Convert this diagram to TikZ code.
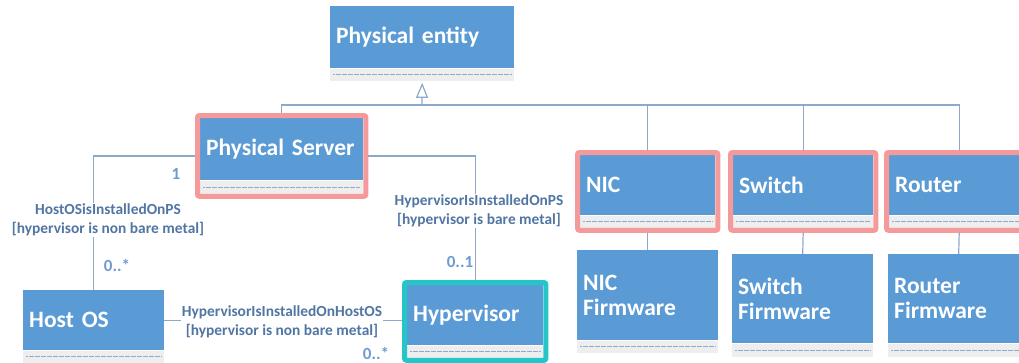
\documentclass[tikz,border=0pt]{standalone}
\usepackage{fontspec}
\setmainfont{Carlito}
\usetikzlibrary{positioning, fit, arrows.meta}

\definecolor{umlblue}{HTML}{5B9BD5}
\definecolor{stripgray}{HTML}{EEEEEE}
\definecolor{stripdot}{HTML}{8FAACC}
\definecolor{hlpink}{HTML}{F59A9A}
\definecolor{hlcyan}{HTML}{26C6C8}
\definecolor{connblue}{HTML}{8DA9CA}
\definecolor{labelblue}{HTML}{5176A3}
\definecolor{multblue}{HTML}{6E9BD0}

\tikzset{
    % class header (blue part)
    umlclass/.style={rectangle, fill=umlblue, text=white, anchor=north west,
        font=\bfseries\fontsize{23.5}{25}\selectfont, inner xsep=6pt, inner ysep=0pt, align=left},
    % empty compartment under the header
    opsbox/.style={rectangle, fill=stripgray, inner sep=0pt, minimum height=12pt,
        path picture={\draw[stripdot, line width=0.6pt, dash pattern=on 0.6pt off 0.6pt]
            ([xshift=3pt]path picture bounding box.west) -- ([xshift=-3pt]path picture bounding box.east);}},
    hilite/.style={draw=#1, line width=5pt, rounded corners=2pt, inner sep=2.5pt},
    conn/.style={draw=connblue, line width=1.2pt},
    assoclabel/.style={fill=white, text=labelblue, align=center, inner sep=1pt,
        font=\bfseries\fontsize{15.4}{19.5}\selectfont},
    mult/.style={text=multblue, inner sep=0pt, font=\bfseries\fontsize{17}{20}\selectfont},
}

\begin{document}
\begin{tikzpicture}[x=1pt, y=-1pt, >=stealth]
    \useasboundingbox (0,0) rectangle (1019,362);

    % Classes
    \node[umlclass, text width=172pt, minimum height=62pt] (entity) at (330,6) {Physical entity};
    \node[opsbox, minimum width=184pt, below=0pt of entity] (entity-ops) {};

    \node[umlclass, text width=151pt, minimum height=62pt] (server) at (200,118) {Physical Server};
    \node[opsbox, minimum width=163pt, minimum height=13pt, below=0pt of server] (server-ops) {};

    \node[umlclass, text width=123pt, minimum height=60pt] (nic) at (580,155) {NIC};
    \node[opsbox, minimum width=135pt, below=0pt of nic] (nic-ops) {};

    \node[umlclass, text width=128pt, minimum height=60pt] (switch) at (733,155) {Switch};
    \node[opsbox, minimum width=140pt, below=0pt of switch] (switch-ops) {};

    \node[umlclass, text width=128pt, minimum height=60pt] (router) at (889,155) {Router};
    \node[opsbox, minimum width=140pt, below=0pt of router] (router-ops) {};

    \node[umlclass, text width=129pt, minimum height=60pt] (hostos) at (23,290) {Host OS};
    \node[opsbox, minimum width=141pt, below=0pt of hostos] (hostos-ops) {};

    \node[umlclass, text width=124pt, minimum height=60pt] (hyper) at (407,285) {Hypervisor};
    \node[opsbox, minimum width=136pt, below=0pt of hyper] (hyper-ops) {};

    \node[umlclass, text width=129pt, minimum height=90pt] (nicfw) at (577,250) {NIC\\Firmware};
    \node[opsbox, minimum width=141pt, below=0pt of nicfw] (nicfw-ops) {};

    \node[umlclass, text width=129pt, minimum height=89pt] (switchfw) at (732,254) {Switch\\Firmware};
    \node[opsbox, minimum width=141pt, minimum height=13pt, below=0pt of switchfw] (switchfw-ops) {};

    \node[umlclass, text width=129pt, minimum height=89pt] (routerfw) at (888,254) {Router\\Firmware};
    \node[opsbox, minimum width=141pt, minimum height=13pt, below=0pt of routerfw] (routerfw-ops) {};

    % Highlight frames
    \node[hilite=hlpink, fit=(server)(server-ops)] (server-hl) {};
    \node[hilite=hlpink, fit=(nic)(nic-ops)] (nic-hl) {};
    \node[hilite=hlpink, fit=(switch)(switch-ops)] (switch-hl) {};
    \node[hilite=hlpink, fit=(router)(router-ops)] (router-hl) {};
    \node[hilite=hlcyan, fit=(hyper)(hyper-ops)] (hyper-hl) {};

    % Generalization
    \coordinate (bus) at (422,105);
    \draw[conn, -{Triangle[open, length=15pt, width=12pt]}, shorten >=2pt] (bus) -- (entity-ops.south);
    \draw[conn] (server-hl.north) -- (server-hl.north |- bus) -- (router-hl.north |- bus) -- (router-hl.north);
    \draw[conn] (nic-hl.north) -- (nic-hl.north |- bus);
    \draw[conn] (switch-hl.north) -- (switch-hl.north |- bus);

    % Firmware links
    \draw[conn] (nic-hl.south) -- (nicfw.north);
    \draw[conn] (switch-hl.south) -- (switchfw.north);
    \draw[conn] (router-hl.south) -- (routerfw.north);

    % Associations
    \draw[conn] (server-hl.west) -| (hostos.north);
    \draw[conn] (server-hl.east) -| (hyper-hl.north);
    \draw[conn] (hostos.east) -- (hostos.east -| hyper-hl.west);

    \node[assoclabel] (lbl-hostps) at (108,220) {HostOSisInstalledOnPS\\{}[hypervisor is non bare metal]};
    \node[assoclabel] (lbl-hypps) at (479,211) {HypervisorIsInstalledOnPS\\{}[hypervisor is bare metal]};
    \node[assoclabel] (lbl-hyphost) at (282,322) {HypervisorIsInstalledOnHostOS\\{}[hypervisor is non bare metal]};

    % Multiplicities
    \node[mult] (m-server) at (176,174) {1};
    \node[mult] (m-hostos) at (117,265) {0..*};
    \node[mult] (m-hyper) at (460,262) {0..1};
    \node[mult] (m-hyphost) at (376,353) {0..*};

\end{tikzpicture}
\end{document}
